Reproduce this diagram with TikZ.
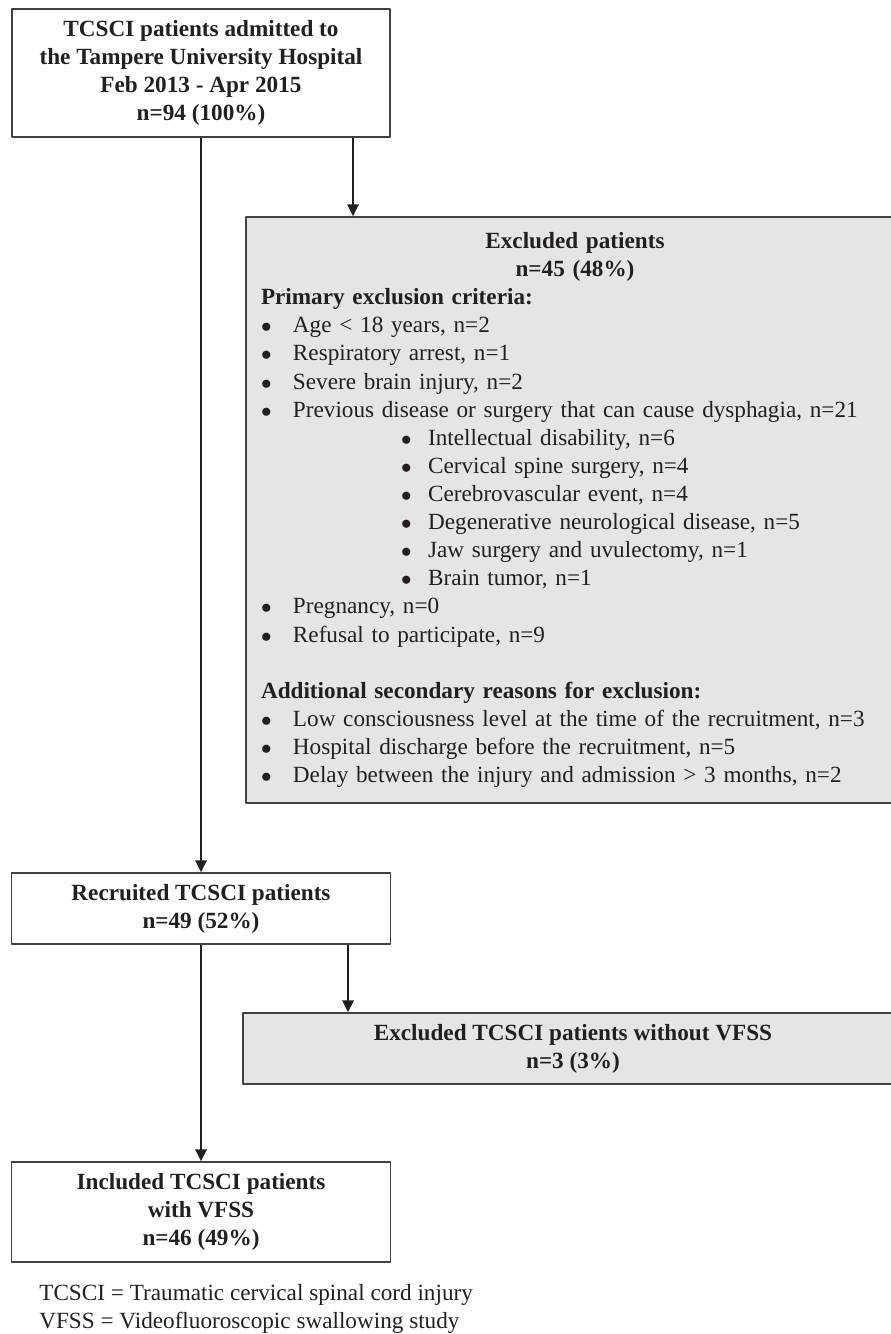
\documentclass[tikz,border=0pt]{standalone}
\usepackage{fontspec}
\setmainfont{Liberation Serif}
\usetikzlibrary{arrows.meta}
\definecolor{boxgrey}{HTML}{E4E5E7}
\definecolor{ink}{HTML}{231F20}
\newcommand{\chartfont}{\fontsize{13.2pt}{16pt}\selectfont}
\newcommand{\bul}{\makebox[18.2pt][l]{$\bullet$}}
\newcommand{\subbul}{\hspace*{79.7pt}\makebox[15.4pt][l]{$\bullet$}}
\tikzset{
  box/.style={draw=ink!85, line width=0.7pt, fill=white, text=ink, align=center, font=\chartfont\bfseries, inner sep=0pt},
  greybox/.style={box, fill=boxgrey},
}
\begin{document}
\begin{tikzpicture}[>={Triangle[width=6.3pt,length=6.8pt]}, font=\chartfont, line join=round]
\useasboundingbox (0,0) rectangle (17.82,-26.68);
\node[box, minimum width=7.56cm, minimum height=2.56cm] (admit) at (4.02,-1.46) {TCSCI patients admitted to\\ the Tampere University Hospital\\ Feb 2013 - Apr 2015\\ n=94 (100\%)};
\node[greybox, minimum width=13.16cm, minimum height=11.72cm, text width=12.56cm, align=left] (excl) at (11.5,-10.2) {%
  {\centering Excluded patients\\ n=45 (48\%)\par}
  Primary exclusion criteria:\\ \mdseries
  \bul Age < 18 years, n=2\\
  \bul Respiratory arrest, n=1\\
  \bul Severe brain injury, n=2\\
  \bul Previous disease or surgery that can cause dysphagia, n=21\\
  \subbul Intellectual disability, n=6\\
  \subbul Cervical spine surgery, n=4\\
  \subbul Cerebrovascular event, n=4\\
  \subbul Degenerative neurological disease, n=5\\
  \subbul Jaw surgery and uvulectomy, n=1\\
  \subbul Brain tumor, n=1\\
  \bul Pregnancy, n=0\\
  \bul Refusal to participate, n=9\\[16pt]
  {\bfseries Additional secondary reasons for exclusion:}\\
  \bul Low consciousness level at the time of the recruitment, n=3\\
  \bul Hospital discharge before the recruitment, n=5\\
  \bul Delay between the injury and admission > 3 months, n=2};
\node[box, minimum width=7.58cm, minimum height=1.42cm] (recr) at (4.02,-18.17) {Recruited TCSCI patients\\ n=49 (52\%)};
\node[greybox, minimum width=13.2cm, minimum height=1.42cm] (excl2) at (11.46,-20.97) {Excluded TCSCI patients without VFSS\\ n=3 (3\%)};
\node[box, minimum width=7.58cm, minimum height=2.0cm] (incl) at (4.02,-24.24) {Included TCSCI patients\\ with VFSS\\ n=46 (49\%)};
\node[anchor=north west, inner sep=0pt, align=left, text=ink] (legend) at (0.78,-25.68) {TCSCI = Traumatic cervical spinal cord injury\\ VFSS = Videofluoroscopic swallowing study};
\coordinate (xr1) at (7.06,0);
\coordinate (xr2) at (6.96,0);
\draw[->, ink, line width=1.4pt] (admit.south) -- (recr.north);
\draw[->, ink, line width=1.4pt] (admit.south -| xr1) -- (excl.north -| xr1);
\draw[->, ink, line width=1.4pt] (recr.south) -- (incl.north);
\draw[->, ink, line width=1.4pt] (recr.south -| xr2) -- (excl2.north -| xr2);
\end{tikzpicture}
\end{document}
